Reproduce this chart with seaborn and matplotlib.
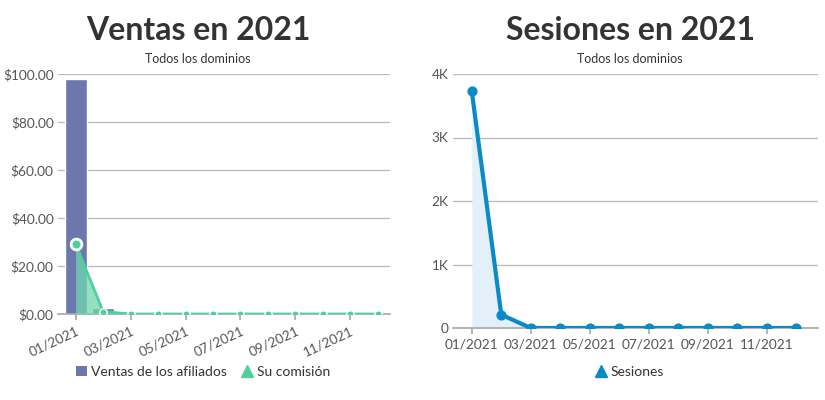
import matplotlib
matplotlib.use("Agg")
import matplotlib.pyplot as plt
from matplotlib.lines import Line2D
from matplotlib.patches import Patch
import seaborn as sns
import pandas as pd
import numpy as np

months = ["01/2021", "02/2021", "03/2021", "04/2021", "05/2021", "06/2021",
          "07/2021", "08/2021", "09/2021", "10/2021", "11/2021", "12/2021"]
ventas = [97.9, 2.6, 0, 0, 0, 0, 0, 0, 0, 0, 0, 0]
comision = [29.3, 1.0, 0, 0, 0, 0, 0, 0, 0, 0, 0, 0]
sesiones = [3726, 210, 0, 0, 0, 0, 0, 0, 0, 0, 0, 0]
left_yticks = [0, 20, 40, 60, 80, 100]
left_ytick_labels = ["$0.00", "$20.00", "$40.00", "$60.00", "$80.00", "$100.00"]
right_yticks = [0, 1000, 2000, 3000, 4000]
right_ytick_labels = ["0", "1K", "2K", "3K", "4K"]

sns.set_theme(style="white")
plt.rcParams["font.family"] = ["Lato", "DejaVu Sans"]

BAR = "#6c78ad"
GREEN = "#4fcf9b"
BLUE = "#0a8ac6"
TXT = "#555555"
GRID = "#bdbdbd"

idx = np.arange(len(months))
df = pd.DataFrame({"idx": idx, "month": months, "ventas": ventas,
                   "comision": comision, "sesiones": sesiones})

fig = plt.figure(figsize=(8.25, 4.0), dpi=100)
ax1 = fig.add_axes([0.070, 0.215, 0.403, 0.600])
ax2 = fig.add_axes([0.549, 0.180, 0.442, 0.635])

def style_axis(ax):
    for s in ["top", "right", "left"]:
        ax.spines[s].set_visible(False)
    ax.spines["bottom"].set_color("#aaaaaa")
    ax.yaxis.grid(True, color=GRID, linewidth=1)
    ax.set_axisbelow(True)
    ax.tick_params(axis="y", length=0, colors=TXT, labelsize=9.8, pad=3)
    ax.tick_params(axis="x", length=4, color="#aaaaaa", colors=TXT, labelsize=9.8, bottom=True)
    ax.set_xlabel("")
    ax.set_ylabel("")

# Left chart
sns.barplot(data=df, x="idx", y="ventas", native_scale=True, color=BAR,
            saturation=1, width=0.8, ax=ax1, zorder=2)
ax1.fill_between(idx, comision, 0, color="#6fd8ad", alpha=0.75, linewidth=0, zorder=3)
sns.lineplot(data=df, x="idx", y="comision", color=GREEN, linewidth=2, ax=ax1, zorder=4)
ax1.scatter(idx[1:], comision[1:], s=28, color=GREEN, edgecolor="white", linewidth=1, zorder=5)
ax1.scatter(idx[:1], comision[:1], s=60, color=GREEN, edgecolor="white", linewidth=2, zorder=5)
ax1.set_xlim(-0.65, 11.45)
ax1.set_ylim(0, 100)
ax1.set_yticks(left_yticks)
ax1.set_yticklabels(left_ytick_labels)
ax1.set_xticks(idx[::2])
ax1.set_xticklabels(months[::2], rotation=25, ha="right", rotation_mode="anchor")
style_axis(ax1)

# Right chart
ax2.fill_between(idx, sesiones, 0, color="#e3f0f8", linewidth=0, zorder=2)
sns.lineplot(data=df, x="idx", y="sesiones", color=BLUE, linewidth=3, ax=ax2, zorder=3)
ax2.scatter(idx, sesiones, s=40, color=BLUE, zorder=4)
ax2.set_xlim(-0.64, 11.73)
ax2.set_ylim(0, 4000)
ax2.set_yticks(right_yticks)
ax2.set_yticklabels(right_ytick_labels)
ax2.set_xticks(idx[::2])
ax2.set_xticklabels(months[::2])
style_axis(ax2)

# Titles
fig.text(198 / 825, 1 - 30 / 400, "Ventas en 2021", ha="center", va="center",
         fontsize=23, fontweight="bold", color="#333333")
fig.text(198 / 825, 1 - 59 / 400, "Todos los dominios", ha="center", va="center",
         fontsize=9, color="#333333")
fig.text(630 / 825, 1 - 30 / 400, "Sesiones en 2021", ha="center", va="center",
         fontsize=23, fontweight="bold", color="#333333")
fig.text(630 / 825, 1 - 59 / 400, "Todos los dominios", ha="center", va="center",
         fontsize=9, color="#333333")

# Legends
h1 = [Patch(facecolor=BAR, edgecolor="none"),
      Line2D([], [], marker="^", linestyle="none", color=GREEN, markersize=9)]
fig.legend(h1, ["Ventas de los afiliados", "Su comisión"], loc="center",
           bbox_to_anchor=(203 / 825, 1 - 372 / 400), ncol=2, frameon=False,
           fontsize=10, handlelength=0.8, handletextpad=0.3, columnspacing=1.0,
           labelcolor="#333333")
h2 = [Line2D([], [], marker="^", linestyle="none", color=BLUE, markersize=9)]
fig.legend(h2, ["Sesiones"], loc="center", bbox_to_anchor=(630 / 825, 1 - 372 / 400),
           frameon=False, fontsize=10, handlelength=0.8, handletextpad=0.3,
           labelcolor="#333333")

fig.savefig("out.png", dpi=100)
